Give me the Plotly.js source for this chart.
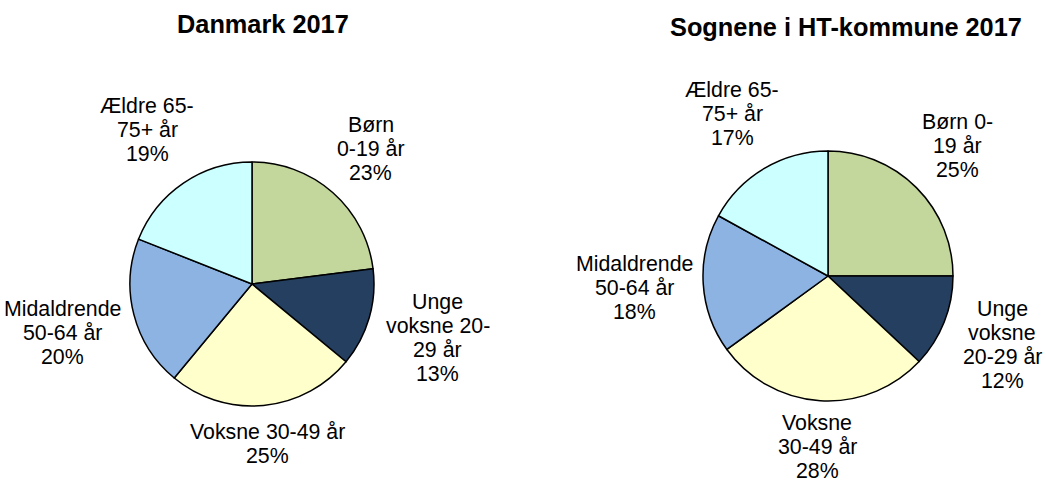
<!DOCTYPE html>
<html>
<head>
<meta charset="utf-8">
<script src="https://cdn.plot.ly/plotly-3.0.1.min.js"></script>
<style>
  body { margin: 0; background: #fff; }
  #chart { width: 1046px; height: 488px; }
</style>
</head>
<body>
<div id="chart"></div>
<script>
// aldersgrupper (samme rækkefølge i begge lagkager)
var kategorier = ['Børn 0-19 år', 'Unge voksne 20-29 år', 'Voksne 30-49 år', 'Midaldrende 50-64 år', 'Ældre 65-75+ år'];
var farver = ['#C3D69B', '#243F60', '#FFFFCC', '#8DB3E2', '#CCFFFF'];

// Danmark 2017
var dkVaerdier = [23, 13, 25, 20, 19];
var dkTekst = ['Børn<br>0-19 år', 'Unge<br>voksne 20-<br>29 år', 'Voksne 30-49 år', 'Midaldrende<br>50-64 år', 'Ældre 65-<br>75+ år'];

// Sognene i HT-kommune 2017
var htVaerdier = [25, 12, 28, 18, 17];
var htTekst = ['Børn 0-<br>19 år', 'Unge<br>voksne<br>20-29 år', 'Voksne<br>30-49 år', 'Midaldrende<br>50-64 år', 'Ældre 65-<br>75+ år'];

var titler = ['Danmark 2017', 'Sognene i HT-kommune 2017'];

var W = 1046, H = 488;
var SKRIFT = 'Liberation Sans, Arial, sans-serif';
var ETIKET_STR = 21.33;   // 16pt
var LINJE = 24;           // linjeafstand i etiketterne
var GAB = 8;              // afstand fra kant til etiket

// placering af lagkagerne i pixel (centrum og radius)
var kager = [
    {cx: 252, cy: 284, r: 122, vaerdier: dkVaerdier, tekst: dkTekst, titelX: 263, titelY: 24},
    {cx: 828, cy: 276, r: 125, vaerdier: htVaerdier, tekst: htTekst, titelX: 846, titelY: 27}
];

// maal tekstbredde så etiketterne kan placeres uden for kanten
var ctx = document.createElement('canvas').getContext('2d');
ctx.font = ETIKET_STR + 'px "Liberation Sans"';
function bredde(s) { return ctx.measureText(s).width; }

function etiketter(k) {
    var total = k.vaerdier.reduce(function (a, b) { return a + b; }, 0);
    var cum = 0;
    var ann = [];
    k.vaerdier.forEach(function (v, i) {
        var midt = (cum + v / 2) / total * 2 * Math.PI;
        cum += v;
        var dx = Math.sin(midt), dy = -Math.cos(midt);
        var linjer = k.tekst[i].split('<br>').concat([Math.round(v / total * 100) + '%']);
        var w = Math.max.apply(null, linjer.map(bredde));
        var h = linjer.length * LINJE;
        var d = k.r + GAB + Math.abs(dx) * w / 2 + Math.abs(dy) * h / 2;
        var mx = k.cx + dx * d, my = k.cy + dy * d;
        linjer.forEach(function (l, j) {
            ann.push({
                text: l, xref: 'paper', yref: 'paper',
                x: mx / W, y: 1 - (my - h / 2 + LINJE / 2 + j * LINJE) / H,
                xanchor: 'center', yanchor: 'middle', showarrow: false,
                font: {size: ETIKET_STR, color: '#000'}
            });
        });
    });
    return ann;
}

var data = kager.map(function (k) {
    return {
        type: 'pie',
        labels: kategorier,
        values: k.vaerdier,
        textinfo: 'none',
        sort: false,
        direction: 'clockwise',
        rotation: 0,
        marker: {colors: farver, line: {color: '#000', width: 1.5}},
        domain: {x: [(k.cx - k.r) / W, (k.cx + k.r) / W], y: [1 - (k.cy + k.r) / H, 1 - (k.cy - k.r) / H]},
        hoverinfo: 'label+percent',
        showlegend: false
    };
});

var annotations = [];
kager.forEach(function (k, i) {
    annotations.push({
        text: '<b>' + titler[i] + '</b>', xref: 'paper', yref: 'paper',
        x: k.titelX / W, y: 1 - k.titelY / H,
        xanchor: 'center', yanchor: 'middle', showarrow: false, font: {size: 25.33}
    });
    annotations = annotations.concat(etiketter(k));
});

var layout = {
    width: W,
    height: H,
    margin: {l: 0, r: 0, t: 0, b: 0},
    paper_bgcolor: '#fff',
    font: {family: SKRIFT, color: '#000'},
    annotations: annotations
};

Plotly.newPlot('chart', data, layout, {staticPlot: true});
</script>
</body>
</html>
